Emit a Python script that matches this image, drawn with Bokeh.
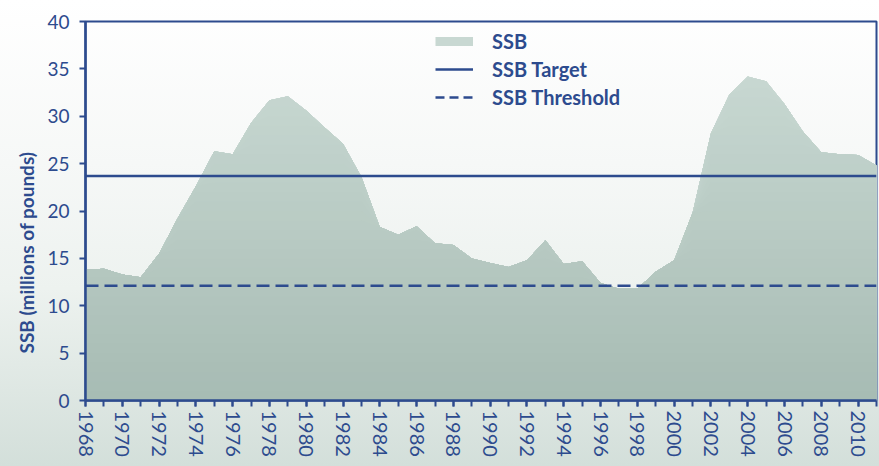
import math
import numpy as np
from bokeh.plotting import figure
from bokeh.models import FixedTicker, Legend, LegendItem, Span, ColumnDataSource, Title
from bokeh.embed import file_html
from bokeh.resources import INLINE

# ---- data ----
years = list(range(1968, 2012))
ssb = [13.8, 13.9, 13.3, 13.0, 15.5, 19.2, 22.6, 26.3, 26.0, 29.3,
       31.7, 32.1, 30.6, 28.8, 27.1, 23.6, 18.3, 17.5, 18.4, 16.6,
       16.4, 15.0, 14.5, 14.1, 14.8, 16.9, 14.4, 14.7, 12.4, 11.8,
       11.8, 13.6, 14.8, 19.8, 28.2, 32.3, 34.2, 33.7, 31.3, 28.4,
       26.2, 26.0, 25.9, 24.8]
ssb_target = 23.7
ssb_threshold = 12.1
y_ticks = [0, 5, 10, 15, 20, 25, 30, 35, 40]
x_label_years = list(range(1968, 2012, 2))
y_title = "SSB (millions of pounds)"

NAVY = "#2d4b8e"
FONT = "Lato"

p = figure(width=879, height=466, x_range=(1968, 2011), y_range=(0, 40),
           output_backend="svg", toolbar_location=None, title=None,
           min_border_left=85, min_border_right=3, min_border_top=21,
           min_border_bottom=66)
p.border_fill_color = None
p.background_fill_color = None
p.styles = {"background": "linear-gradient(to bottom, #ffffff 0%, #f6f8f7 35%, #edf2ef 62%, #d3dfda 100%)"}
p.outline_line_color = NAVY
p.outline_line_width = 2
p.grid.visible = False

# area with vertical gradient (stacked clipped areas)
ssb_arr = np.array(ssb, dtype=float)
top_c = np.array([0xcd, 0xdc, 0xd6])
bot_c = np.array([0xa6, 0xbb, 0xb3])
for L in range(40, 0, -1):
    t = L / 40.0
    c = bot_c + (top_c - bot_c) * t
    col = "#%02x%02x%02x" % tuple(int(round(v)) for v in c)
    p.varea(x=years, y1=0, y2=np.minimum(ssb_arr, L), fill_color=col, fill_alpha=1.0)

p.add_layout(Span(location=ssb_target, dimension="width", line_color=NAVY, line_width=2.5))
p.add_layout(Span(location=ssb_threshold, dimension="width", line_color=NAVY,
                  line_width=2.5, line_dash="13 6"))

# legend proxies (no visible data)
def proxy_src():
    return ColumnDataSource(dict(x=np.array([np.nan]), y=np.array([np.nan])))

r_ssb = p.line("x", "y", source=proxy_src(), line_color="#c8d8d2", line_width=9)
r_tgt = p.line("x", "y", source=proxy_src(), line_color=NAVY, line_width=2.5)
r_thr = p.line("x", "y", source=proxy_src(), line_color=NAVY, line_width=2.5,
               line_dash="9 5")
legend = Legend(items=[LegendItem(label="SSB", renderers=[r_ssb]),
                       LegendItem(label="SSB Target", renderers=[r_tgt]),
                       LegendItem(label="SSB Threshold", renderers=[r_thr])],
                location=(350, 291), orientation="vertical",
                background_fill_alpha=0, border_line_alpha=0,
                label_text_font=FONT, label_text_font_size="20px",
                label_text_font_style="bold",
                label_text_color=NAVY, glyph_width=38, glyph_height=24,
                label_height=24, spacing=4, padding=0, margin=0, label_standoff=19)
p.add_layout(legend)

# y axis title as a left-side title, shifted like the reference
p.add_layout(Title(text=y_title, align="left", offset=47, standoff=14,
                   text_font=FONT, text_font_style="bold", text_font_size="19px",
                   text_color=NAVY), "left")

# axes
p.yaxis.ticker = FixedTicker(ticks=y_ticks)
p.yaxis.minor_tick_line_color = None

p.xaxis.ticker = FixedTicker(ticks=x_label_years, minor_ticks=years)
p.xaxis.major_label_orientation = -math.pi / 2
p.xaxis.minor_tick_out = 6
p.xaxis.minor_tick_in = 0
p.xaxis.minor_tick_line_color = NAVY
p.xaxis.minor_tick_line_width = 2

for ax in (p.xaxis, p.yaxis):
    ax.axis_line_color = NAVY
    ax.axis_line_width = 2.5
    ax.major_tick_line_color = NAVY
    ax.major_tick_line_width = 2
    ax.major_tick_out = 6
    ax.major_tick_in = 0
    ax.major_label_text_font = FONT
    ax.major_label_text_color = NAVY

p.yaxis.major_label_text_font_size = "19px"
p.yaxis.major_label_standoff = 10
p.xaxis.major_label_text_font_size = "20px"
p.xaxis.major_label_standoff = 4

open("out.html", "w").write(file_html(p, INLINE))
